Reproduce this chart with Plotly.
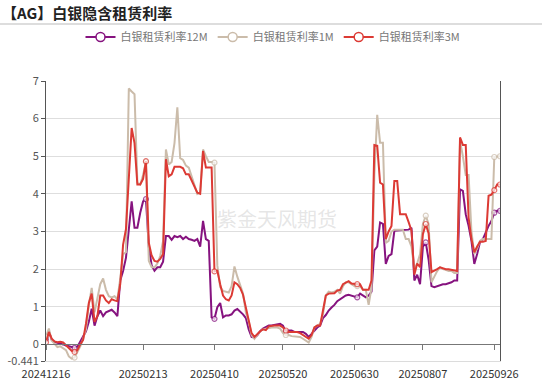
import plotly.graph_objects as go

# ---- data ----
tick_labels = ["20241216", "20250213", "20250410", "20250520", "20250630", "20250807", "20250926"]
tick_index = [0, 34, 59, 83, 108, 132, 157]
marker_index = [0, 10, 35, 59, 84, 109, 133, 157, 159]

rate_12m = [
    0.15, 0.35, 0.12, 0.06, 0.04, 0.03, 0.0, -0.03, -0.05, -0.07,
    -0.09, -0.06, 0.08, 0.18, 0.35, 0.6, 0.95, 0.5, 0.75, 0.9,
    0.75, 0.85, 0.88, 0.92, 0.85, 0.75, 1.7, 1.95, 2.3, 3.0,
    3.8, 3.1, 3.1, 3.5, 3.8, 3.86, 2.6, 2.1, 1.96, 2.05,
    2.05, 2.2, 2.88, 2.88, 2.78, 2.88, 2.85, 2.88, 2.8, 2.86,
    2.8, 2.78, 2.75, 2.8, 2.6, 3.28, 2.8, 2.75, 0.72, 0.68,
    0.99, 1.1, 0.72, 0.77, 0.77, 0.8, 0.9, 0.94, 0.88, 0.8,
    0.7, 0.4, 0.2, 0.18, 0.24, 0.35, 0.42, 0.45, 0.5, 0.5,
    0.52, 0.55, 0.55, 0.5, 0.33, 0.37, 0.37, 0.33, 0.33, 0.33,
    0.33, 0.28, 0.2, 0.28, 0.37, 0.45, 0.5, 0.7, 0.78, 0.9,
    0.98, 1.05, 1.15, 1.2, 1.25, 1.3, 1.32, 1.3, 1.28, 1.25,
    1.35, 1.3, 1.25, 1.3, 1.4, 2.5, 2.6, 3.24, 3.2, 2.14,
    2.35, 2.4, 3.02, 3.03, 3.03, 3.03, 3.03, 3.05, 3.1, 1.7,
    1.85, 1.6, 2.6, 2.71, 2.25, 1.55, 1.52, 1.55, 1.57, 1.6,
    1.6, 1.62, 1.65, 1.7, 1.7, 4.12, 4.08, 3.46, 3.15, 2.75,
    2.14, 2.4, 2.72, 2.8, 2.98, 3.15, 3.28, 3.5, 3.55, 3.55,
]
rate_1m = [
    0.2, 0.42, 0.1, 0.0, -0.07, -0.05, -0.1, -0.15, -0.32, -0.38,
    -0.35, -0.2, -0.05, 0.15, 0.4, 1.05, 1.5, 0.85, 1.2, 1.6,
    1.75, 1.45, 1.28, 1.25, 1.28, 1.2, 1.75, 2.4, 2.45, 6.8,
    6.72, 6.65, 4.3, 4.25, 4.5, 4.85, 2.22, 2.05, 2.05, 2.15,
    2.35, 2.75, 5.18, 4.78, 4.85, 5.35, 6.3, 4.95, 4.9, 4.75,
    4.7, 4.45, 4.2, 4.0, 4.05, 5.18, 5.0, 4.85, 4.85, 4.83,
    2.1, 1.52, 1.42, 1.4, 1.38, 1.55, 2.07, 1.8, 1.6, 1.35,
    0.85, 0.6, 0.25, 0.15, 0.25, 0.35, 0.4, 0.42, 0.45, 0.45,
    0.45, 0.45, 0.42, 0.3, 0.25, 0.25, 0.22, 0.22, 0.2, 0.2,
    0.15, 0.1, 0.05, 0.2, 0.45, 0.5, 0.55, 0.8, 1.3, 1.4,
    1.38, 1.4, 1.45, 1.35, 1.55, 1.65, 1.65, 1.6, 1.55, 1.55,
    1.55, 1.45, 1.45, 1.05, 1.5, 4.5, 6.1, 5.36, 5.36, 2.7,
    2.75, 3.0, 3.05, 3.05, 3.05, 3.05, 2.8, 2.8, 2.6, 2.0,
    2.15, 2.4, 3.2, 3.42, 3.2, 1.65, 1.8, 1.95, 2.05, 2.0,
    1.98, 1.95, 1.95, 1.9, 1.9, 5.4, 5.0, 4.5, 4.5, 3.0,
    2.4, 2.55, 2.75, 2.8, 2.8, 2.8, 2.8, 4.98, 5.0, 5.0,
]
rate_3m = [
    0.06, 0.33, 0.15, 0.08, 0.06, 0.07, 0.05, -0.03, -0.1, -0.17,
    -0.2, -0.15, 0.0, 0.12, 0.55, 1.1, 1.35, 0.6, 0.75, 1.3,
    1.3, 1.17, 1.1, 1.2, 1.17, 1.15, 1.6, 2.65, 3.06, 4.3,
    5.75, 5.35, 4.25, 4.25, 4.4, 4.87, 2.7, 2.36, 2.22, 2.2,
    2.27, 2.4, 4.92, 4.47, 4.52, 4.72, 4.72, 4.72, 4.68, 4.52,
    4.52, 4.34, 4.17, 4.03, 4.0, 5.14, 4.7, 4.7, 4.7, 1.94,
    1.96, 1.6, 1.3, 1.2, 1.17, 1.3, 1.65, 1.6, 1.5, 1.32,
    0.95, 0.6, 0.3, 0.2, 0.28, 0.35, 0.4, 0.38, 0.48, 0.5,
    0.5, 0.5, 0.5, 0.45, 0.37, 0.33, 0.33, 0.33, 0.33, 0.3,
    0.25, 0.2, 0.15, 0.25, 0.45, 0.5, 0.5, 0.9, 1.3, 1.35,
    1.35, 1.36, 1.43, 1.45, 1.6, 1.65, 1.68, 1.62, 1.6, 1.6,
    1.6, 1.45, 1.45, 1.45, 1.7, 5.3, 5.28, 4.3, 4.25, 2.8,
    3.0, 3.15, 4.34, 4.34, 3.46, 3.46, 3.46, 3.25, 3.02, 1.85,
    2.15, 2.05, 2.93, 3.2, 2.95, 1.92, 1.95, 2.0, 2.05, 2.02,
    2.0, 2.0, 1.98, 1.95, 1.95, 5.5, 5.3, 5.3, 3.37, 2.8,
    2.45, 2.6, 2.73, 2.73, 2.75, 3.95, 3.98, 4.1, 4.25, 4.25,
]

series_names = ["白银租赁利率12M", "白银租赁利率1M", "白银租赁利率3M"]
series_colors = ["#86137f", "#cbbcaa", "#dc3a34"]
series_values = [rate_12m, rate_1m, rate_3m]

y_min, y_max = -0.441, 7
font_family = "Noto Sans CJK SC, Noto Sans, sans-serif"

fig = go.Figure()
n = len(rate_12m)
x_idx = list(range(n))
for name, color, vals in zip(series_names, series_colors, series_values):
    sizes = [5 if i in marker_index else 0 for i in x_idx]
    lws = [1.2 if i in marker_index else 0 for i in x_idx]
    fig.add_trace(go.Scatter(
        x=x_idx, y=vals, name=name, mode="lines+markers", showlegend=False,
        line=dict(color=color, width=2),
        marker=dict(symbol="circle", size=sizes, color="white",
                    line=dict(color=color, width=lws)),
    ))
# legend entries
for name, color in zip(series_names, series_colors):
    fig.add_trace(go.Scatter(
        x=[None], y=[None], name=name, mode="lines+markers",
        line=dict(color=color, width=2),
        marker=dict(symbol="circle", size=9, color="white", line=dict(color=color, width=1.5)),
    ))

fig.update_layout(
    width=542, height=382,
    margin=dict(l=46, r=42, t=81, b=21, autoexpand=False),
    plot_bgcolor="white", paper_bgcolor="white",
    font=dict(family=font_family, size=11, color="#555"),
    showlegend=True,
    legend=dict(orientation="h", x=0.5, xanchor="center", y=1.157, yanchor="middle",
                font=dict(size=11, color="#777"), itemwidth=30,
                traceorder="normal", bgcolor="rgba(0,0,0,0)"),
    xaxis=dict(range=[0, n - 1], tickmode="array", tickvals=tick_index, ticktext=tick_labels,
               showgrid=False, zeroline=False, showline=True, linecolor="#dcdcdc", linewidth=1,
               ticks="outside", ticklen=3, tickcolor="rgba(0,0,0,0)", automargin=False,
               tickfont=dict(size=11, color="#333")),
    xaxis2=dict(range=[0, n - 1], overlaying="x", anchor="free",
                position=(0 - y_min) / (y_max - y_min), side="bottom",
                tickmode="array", tickvals=tick_index, showticklabels=False,
                showgrid=False, zeroline=False, showline=True, linecolor="#777", linewidth=1,
                ticks="outside", ticklen=5, tickcolor="#777", automargin=False),
    yaxis=dict(range=[y_min, y_max], tickmode="array",
               tickvals=[y_min, 0, 1, 2, 3, 4, 5, 6, 7],
               ticktext=["-0.441", "0", "1", "2", "3", "4", "5", "6", "7"],
               showgrid=True, gridcolor="#dedede", gridwidth=1, zeroline=False,
               showline=True, linecolor="#555", linewidth=1, mirror=True,
               ticks="outside", ticklen=4, tickcolor="#555", automargin=False,
               tickfont=dict(size=11, color="#555")),
)

# keep xaxis2 rendered
fig.add_trace(go.Scatter(x=[0], y=[None], xaxis="x2", showlegend=False, hoverinfo="skip"))

fig.add_annotation(text="<b>【AG】白银隐含租赁利率</b>", xref="paper", yref="paper",
                   x=-46 / 454, y=1 + (81 - 12) / 280, xanchor="left", yanchor="middle",
                   showarrow=False, font=dict(size=15, color="#222", family=font_family))
fig.add_shape(type="line", xref="paper", yref="paper",
              x0=-46 / 454, x1=(542 - 46) / 454, y0=1 + (81 - 24) / 280, y1=1 + (81 - 24) / 280,
              line=dict(color="#bbbbbb", width=1))
fig.add_annotation(text="紫金天风期货", xref="paper", yref="paper",
                   x=(277 - 46) / 454, y=1 - (218 - 81) / 280, xanchor="center", yanchor="middle",
                   showarrow=False, font=dict(size=20, color="rgba(200,200,200,0.45)", family=font_family))

fig.write_html("out.html")
